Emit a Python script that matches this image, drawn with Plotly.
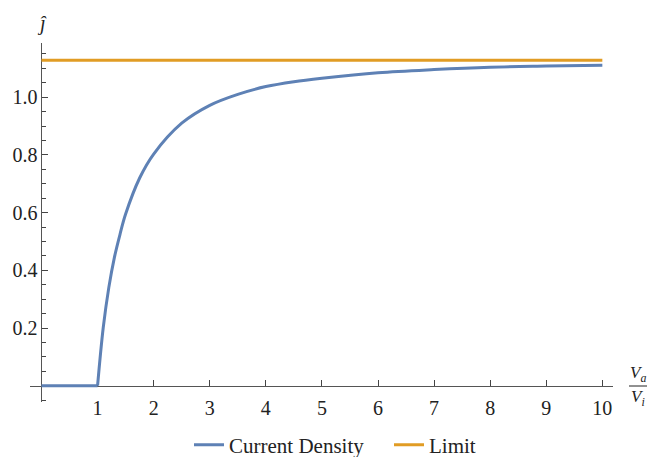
import plotly.graph_objects as go

# Data
flat_x = [0, 1]
flat_y = [0, 0]
curve_x = [1.0, 1.1, 1.2, 1.3, 1.4, 1.5, 1.75, 2.0, 2.5, 3.0, 3.5, 4.0, 4.5, 5.0, 6.0, 7.0, 8.0, 9.0, 10.0]
curve_y = [0.0, 0.2, 0.34, 0.445, 0.525, 0.595, 0.72, 0.803, 0.91, 0.972, 1.010, 1.037, 1.054, 1.066, 1.085, 1.096, 1.104, 1.108, 1.111]
limit_x = [0, 10]
limit_y = [1.128, 1.128]

x_ticks = [1, 2, 3, 4, 5, 6, 7, 8, 9, 10]
y_ticks = [0.2, 0.4, 0.6, 0.8, 1.0]
y_ticktext = ["0.2", "0.4", "0.6", "0.8", "1.0"]
y_minor = [-0.05, 0.05, 0.1, 0.15, 0.25, 0.3, 0.35, 0.45, 0.5, 0.55, 0.65, 0.7, 0.75,
           0.85, 0.9, 0.95, 1.05, 1.1, 1.15]

BLUE = "#5E81B5"
ORANGE = "#E19C24"
FONT = "Liberation Serif, Times New Roman, serif"

W, H = 648, 457
ML, MR, MT, MB = 30, 35, 43, 55
XR = [-0.205, 10.19]
YR = [-0.0565, 1.188]

fig = go.Figure()
fig.add_trace(go.Scatter(x=curve_x, y=curve_y, mode="lines", name="Current Density",
                         line=dict(color=BLUE, width=3, shape="spline", smoothing=1.0),
                         legendgroup="cd"))
fig.add_trace(go.Scatter(x=flat_x, y=flat_y, mode="lines", name="Current Density",
                         line=dict(color=BLUE, width=3), legendgroup="cd", showlegend=False))
fig.add_trace(go.Scatter(x=limit_x, y=limit_y, mode="lines", name="Limit",
                         line=dict(color=ORANGE, width=3)))

xpos = (0 - YR[0]) / (YR[1] - YR[0])
ypos = (0 - XR[0]) / (XR[1] - XR[0])

fig.update_layout(
    width=W, height=H,
    margin=dict(l=ML, r=MR, t=MT, b=MB, autoexpand=False),
    paper_bgcolor="white", plot_bgcolor="white",
    font=dict(family=FONT, size=20, color="black"),
    showlegend=True,
    legend=dict(orientation="h", x=189 / W, xanchor="left", xref="container",
                y=1 - 445 / H, yanchor="middle", yref="container",
                font=dict(family=FONT, size=21, color="#222"),
                entrywidth=155, entrywidthmode="pixels",
                itemwidth=30, traceorder="normal"),
    xaxis=dict(range=XR, anchor="free", position=xpos, showgrid=False, zeroline=False,
               showline=True, linecolor="#555", linewidth=1,
               ticks="inside", ticklen=6, tickwidth=1, tickcolor="#444",
               tickvals=x_ticks, ticktext=[str(v) for v in x_ticks],
               tickfont=dict(family=FONT, size=20, color="#222"),
               ticklabelstandoff=4,
               layer="below traces"),
    yaxis=dict(range=YR, anchor="free", position=ypos, showgrid=False, zeroline=False,
               showline=True, linecolor="#555", linewidth=1,
               ticks="inside", ticklen=6, tickwidth=1, tickcolor="#444",
               tickvals=y_ticks, ticktext=y_ticktext,
               tickfont=dict(family=FONT, size=20, color="#222"),
               minor=dict(tickvals=y_minor, ticks="inside", ticklen=3.5, tickcolor="#444", tickwidth=1),
               layer="below traces"),
)

def px2x(px):
    return (px - ML) / (W - ML - MR)

def py2y(py):
    return (H - MB - py) / (H - MT - MB)

fig.add_annotation(x=px2x(41.5), y=py2y(24), xref="paper", yref="paper",
                   text="<i>ĵ</i>", showarrow=False, font=dict(family=FONT, size=20, color="#222"),
                   xanchor="center", yanchor="middle")
fig.add_annotation(x=px2x(638), y=py2y(374), xref="paper", yref="paper",
                   text="<i>V</i><sub><i>a</i></sub>", showarrow=False,
                   font=dict(family=FONT, size=17, color="#222"), xanchor="center", yanchor="middle")
fig.add_annotation(x=px2x(638), y=py2y(398), xref="paper", yref="paper",
                   text="<i>V</i><sub><i>i</i></sub>", showarrow=False,
                   font=dict(family=FONT, size=17, color="#222"), xanchor="center", yanchor="middle")
fig.add_shape(type="line", xref="paper", yref="paper",
              x0=px2x(629), x1=px2x(647), y0=py2y(386), y1=py2y(386),
              line=dict(color="#222", width=1))

fig.write_html("out.html")
